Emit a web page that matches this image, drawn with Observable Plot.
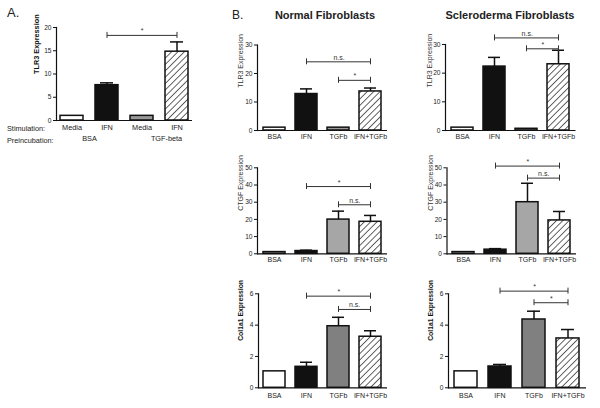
<!DOCTYPE html>
<html><head><meta charset="utf-8">
<script src="https://cdn.jsdelivr.net/npm/d3@7"></script>
<script src="https://cdn.jsdelivr.net/npm/@observablehq/plot@0.6"></script>
<style>
body{margin:0;background:#fff;}
#root{position:relative;width:600px;height:408px;overflow:hidden;font-family:"Liberation Sans",Arial,Helvetica,sans-serif;color:#222;}
#root svg.panel{position:absolute;left:0;top:0;}
.lbl{position:absolute;white-space:nowrap;line-height:1;}
</style></head>
<body>
<svg width="0" height="0" style="position:absolute">
  <defs>
    <pattern id="hatch" patternUnits="userSpaceOnUse" width="4.5" height="4.5" patternTransform="rotate(45)">
      <rect width="4.5" height="4.5" fill="white"/>
      <line x1="0" y1="0" x2="0" y2="4.5" stroke="#111" stroke-width="1.3"/>
    </pattern>
  </defs>
</svg>
<div id="root">
  <div class="lbl" style="left:7px;top:6px;font-size:13px;">A.</div>
  <div class="lbl" style="left:232px;top:9px;font-size:12px;">B.</div>
  <div class="lbl" style="left:325px;top:10px;font-size:11px;font-weight:bold;transform:translateX(-50%);">Normal Fibroblasts</div>
  <div class="lbl" style="left:510px;top:10px;font-size:11px;font-weight:bold;transform:translateX(-50%);">Scleroderma Fibroblasts</div>
  <div class="lbl" style="left:7px;top:124.5px;font-size:7.3px;">Stimulation:</div>
  <div class="lbl" style="left:7px;top:137px;font-size:7.3px;">Preincubation:</div>
</div>
<script>
// ---------- data ----------
const aStimulation = ["Media", "IFN", "Media", "IFN"];
const aPreincubation = ["BSA", "TGF-beta"];
const aTLR3 = [1, 7.6, 1, 14.8];
const aTLR3Err = [1, 8.1, 1, 16.9];

const bCategories = ["BSA", "IFN", "TGFb", "IFN+TGFb"];
const normalTLR3 = [1, 12.8, 1, 13.7];
const normalTLR3Err = [1, 14.6, 1, 14.9];
const sclTLR3 = [1, 22.3, 0.6, 23.1];
const sclTLR3Err = [1, 25.5, 0.6, 28.0];
const normalCTGF = [1, 1.6, 19.9, 18.6];
const normalCTGFErr = [1, 2.1, 24.8, 22.3];
const sclCTGF = [1, 2.4, 30, 19.4];
const sclCTGFErr = [1, 3.0, 41, 24.6];
const normalCol = [1.05, 1.34, 3.93, 3.26];
const normalColErr = [1.05, 1.63, 4.5, 3.64];
const sclCol = [1.05, 1.36, 4.36, 3.15];
const sclColErr = [1.05, 1.49, 4.89, 3.72];

const ticksA = [0, 5, 10, 15, 20];
const ticksTLR3 = [0, 10, 20, 30];
const ticksCTGF = [0, 10, 20, 30, 40, 50];
const ticksCol = [0, 2, 4, 6];

const sigA = [{from: 1, to: 3, y: 18.3, label: "*"}];
const sigNormalTLR3 = [{from: "IFN", to: "IFN+TGFb", y: 24.1, label: "n.s."}, {from: "TGFb", to: "IFN+TGFb", y: 17.6, label: "*"}];
const sigSclTLR3 = [{from: "IFN", to: "IFN+TGFb", y: 32.3, label: "n.s."}, {from: "TGFb", to: "IFN+TGFb", y: 28.5, label: "*"}];
const sigNormalCTGF = [{from: "IFN", to: "IFN+TGFb", y: 39.1, label: "*"}, {from: "TGFb", to: "IFN+TGFb", y: 28.5, label: "n.s."}];
const sigSclCTGF = [{from: "IFN", to: "IFN+TGFb", y: 51, label: "*"}, {from: "TGFb", to: "IFN+TGFb", y: 44, label: "n.s."}];
const sigNormalCol = [{from: "IFN", to: "IFN+TGFb", y: 5.85, label: "*"}, {from: "TGFb", to: "IFN+TGFb", y: 5.0, label: "n.s."}];
const sigSclCol = [{from: "IFN", to: "IFN+TGFb", y: 6.17, label: "*"}, {from: "TGFb", to: "IFN+TGFb", y: 5.43, label: "*"}];

const fillsA = ["white", "#111", "#999", "url(#hatch)"];
const fillsTLR3 = ["white", "#111", "#999", "url(#hatch)"];
const fillsCTGF = ["white", "#111", "#a6a6a6", "url(#hatch)"];
const fillsCol = ["white", "#111", "#808080", "url(#hatch)"];

// ---------- drawing ----------
const FONT = '"Liberation Sans", Arial, Helvetica, sans-serif';
const INK = "#111";

function panel(cfg) {
  const {cats, values, errors, fills, sig, x0, x1, yTop, yZero, ymax, ticks,
         yLabel, yLabelBold, yLabelSize, yLabelOffset, pi = 0.31, po = 0.15,
         xPad = 3, xFont = 7, tickFormat, extra = () => []} = cfg;
  const data = cats.map((c, i) => ({c, v: values[i], e: errors[i], f: fills[i]}));
  const n = cats.length;
  const step = (x1 - x0) / (n - pi + 2 * po);
  const cap = 3 * ymax / (yZero - yTop);
  const idx = c => cats.indexOf(c);
  const withErr = data.filter(d => d.e > d.v);
  const marks = [
    Plot.barY(data, {x: "c", y: "v", fill: "f", stroke: INK, strokeWidth: 1.5}),
    Plot.ruleX(withErr, {x: "c", y1: "v", y2: "e", stroke: INK, strokeWidth: 1.5}),
    Plot.tickY(withErr, {x: "c", y: "e", stroke: INK, strokeWidth: 1.5, insetLeft: 5, insetRight: 5}),
    Plot.ruleY([0], {stroke: INK, strokeWidth: 1.2}),
    Plot.frame({anchor: "left", stroke: INK, strokeWidth: 1.2}),
    Plot.axisY({ticks, tickSize: 3, tickPadding: 2, fontSize: 6.6, label: null, stroke: INK, tickFormat: d => String(d)}),
    Plot.axisX({tickSize: 0, tickPadding: xPad, fontSize: xFont, label: null, tickFormat}),
    Plot.text([yLabel], {text: d => d, frameAnchor: "left", rotate: -90, dx: -yLabelOffset,
      fontSize: yLabelSize, fontWeight: yLabelBold ? "bold" : "normal", fill: yLabelBold ? INK : "#333"}),
    ...sig.flatMap(s => {
      const span = idx(s.to) - idx(s.from);
      return [
        Plot.link([s], {x1: "from", x2: "to", y1: "y", y2: "y", stroke: "#333", strokeWidth: 1}),
        Plot.ruleX([s.from, s.to], {x: d => d, y1: () => s.y - cap, y2: () => s.y + cap, stroke: "#333", strokeWidth: 1}),
        Plot.text([s], {x: "from", y: "y", text: "label", dx: span * step / 2, dy: -2,
          lineAnchor: "bottom", fontSize: 7, fill: "#333"})
      ];
    }),
    ...extra(step)
  ];
  const svg = Plot.plot({
    width: 600, height: 408,
    marginLeft: x0, marginRight: 600 - x1, marginTop: yTop, marginBottom: 408 - yZero,
    x: {type: "band", domain: cats, paddingInner: pi, paddingOuter: po, axis: null},
    y: {domain: [0, ymax], axis: null},
    color: {type: "identity"},
    style: {background: "transparent", fontFamily: FONT, color: "#222", overflow: "visible"},
    marks
  });
  svg.classList.add("panel");
  document.getElementById("root").appendChild(svg);
}

// Panel A
panel({
  cats: [0, 1, 2, 3], values: aTLR3, errors: aTLR3Err, fills: fillsA, sig: sigA,
  x0: 56, x1: 192, yTop: 27, yZero: 120, ymax: 20, ticks: ticksA,
  yLabel: "TLR3 Expression", yLabelBold: true, yLabelSize: 7.3, yLabelOffset: 20,
  pi: 0.34, po: 0.11, xPad: 4.5, xFont: 7.3, tickFormat: i => aStimulation[i],
  extra: step => aPreincubation.map((g, i) => Plot.text([g], {
    x: () => 2 * i, text: d => d, frameAnchor: "bottom", dy: 20, dx: step / 2 + (i ? 7 : 0), fontSize: 7.3
  }))
});

// Normal TLR3
panel({
  cats: bCategories, values: normalTLR3, errors: normalTLR3Err, fills: fillsTLR3, sig: sigNormalTLR3,
  x0: 257, x1: 387, yTop: 44.5, yZero: 130, ymax: 30, ticks: ticksTLR3,
  yLabel: "TLR3 Expression", yLabelBold: false, yLabelSize: 7, yLabelOffset: 16.5, xPad: 3.5
});
// Scleroderma TLR3
panel({
  cats: bCategories, values: sclTLR3, errors: sclTLR3Err, fills: fillsTLR3, sig: sigSclTLR3,
  x0: 445, x1: 575.5, yTop: 44, yZero: 130, ymax: 30, ticks: ticksTLR3,
  yLabel: "TLR3 Expression", yLabelBold: false, yLabelSize: 7, yLabelOffset: 16, xPad: 3.5
});
// Normal CTGF
panel({
  cats: bCategories, values: normalCTGF, errors: normalCTGFErr, fills: fillsCTGF, sig: sigNormalCTGF,
  x0: 257, x1: 387, yTop: 167.3, yZero: 253.3, ymax: 50, ticks: ticksCTGF,
  yLabel: "CTGF Expression", yLabelBold: false, yLabelSize: 7, yLabelOffset: 16.5, xPad: 3
});
// Scleroderma CTGF
panel({
  cats: bCategories, values: sclCTGF, errors: sclCTGFErr, fills: fillsCTGF, sig: sigSclCTGF,
  x0: 446.5, x1: 576, yTop: 167.3, yZero: 253.3, ymax: 50, ticks: ticksCTGF,
  yLabel: "CTGF Expression", yLabelBold: false, yLabelSize: 7, yLabelOffset: 16, xPad: 3
});
// Normal Col1a1
panel({
  cats: bCategories, values: normalCol, errors: normalColErr, fills: fillsCol, sig: sigNormalCol,
  x0: 258, x1: 387, yTop: 293.3, yZero: 387.3, ymax: 6, ticks: ticksCol,
  yLabel: "Col1a1 Expression", yLabelBold: true, yLabelSize: 6.8, yLabelOffset: 18, xPad: 5.5
});
// Scleroderma Col1a1
panel({
  cats: bCategories, values: sclCol, errors: sclColErr, fills: fillsCol, sig: sigSclCol,
  x0: 448, x1: 586, yTop: 293.3, yZero: 387.3, ymax: 6, ticks: ticksCol,
  yLabel: "Col1a1 Expression", yLabelBold: true, yLabelSize: 6.8, yLabelOffset: 18, xPad: 5.5
});
</script>
</body></html>
